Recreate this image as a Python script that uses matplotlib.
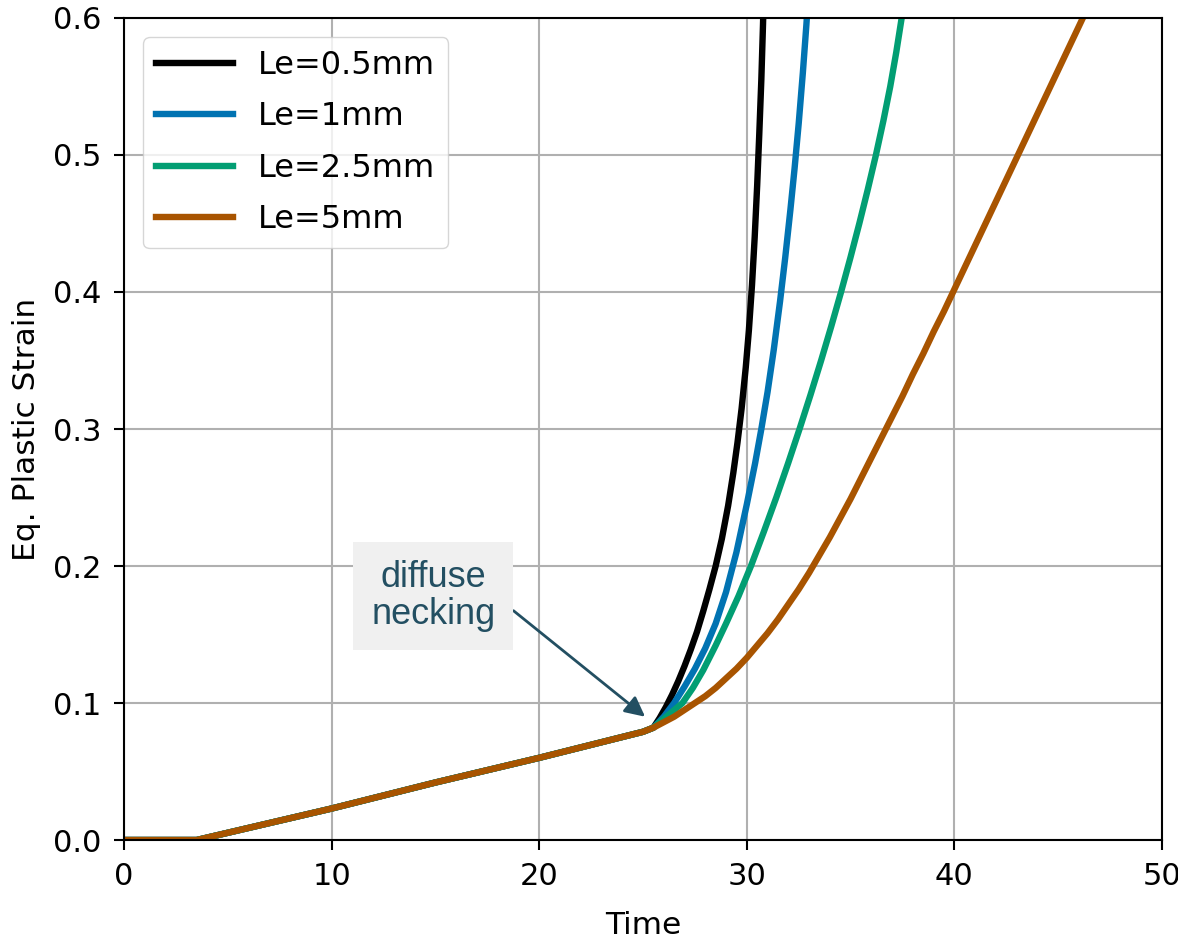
import matplotlib
matplotlib.use("Agg")
import matplotlib.pyplot as plt

# shared pre-necking branch (all element sizes overlap here)
t_base = [0.0, 3.5, 10.0, 15.0, 20.0, 25.0]
e_base = [0.0, 0.0, 0.023, 0.042, 0.060, 0.079]

# post-necking branches
t_05 = [25.5, 25.8, 26.1, 26.4, 26.7, 27.0, 27.3, 27.6, 27.9, 28.2, 28.5, 28.8,
        29.1, 29.35, 29.55, 29.75, 29.95, 30.1, 30.25, 30.38, 30.5, 30.6, 30.7, 30.78, 30.86]
e_05 = [0.082, 0.089, 0.097, 0.106, 0.116, 0.127, 0.139, 0.152, 0.167, 0.183, 0.200, 0.220,
        0.244, 0.268, 0.290, 0.315, 0.345, 0.372, 0.405, 0.440, 0.478, 0.515, 0.555, 0.595, 0.640]

t_1 = [25.5, 26.0, 26.5, 27.0, 27.5, 28.0, 28.5, 29.0, 29.5, 30.0, 30.4, 30.7, 31.0,
       31.3, 31.6, 31.85, 32.1, 32.3, 32.5, 32.7, 32.87, 33.02]
e_1 = [0.082, 0.090, 0.100, 0.112, 0.125, 0.140, 0.158, 0.181, 0.210, 0.245, 0.275, 0.300, 0.327,
       0.358, 0.393, 0.425, 0.460, 0.490, 0.523, 0.560, 0.595, 0.630]

t_25 = [25.5, 26.2, 26.9, 27.4, 27.9, 28.5, 29.0, 29.6, 30.2, 30.82, 31.42, 31.99, 32.54,
        33.07, 33.58, 34.07, 34.54, 34.99, 35.42, 35.83, 36.22, 36.58, 36.91, 37.2, 37.46, 37.69]
e_25 = [0.082, 0.091, 0.100, 0.111, 0.124, 0.142, 0.158, 0.178, 0.200, 0.225, 0.250, 0.275, 0.300,
        0.325, 0.350, 0.375, 0.400, 0.425, 0.450, 0.475, 0.500, 0.525, 0.550, 0.575, 0.600, 0.625]

t_5 = [25.5, 26.0, 26.5, 27.0, 27.5, 28.0, 28.5, 29.0, 29.5, 30.0, 30.5, 31.0, 31.5, 32.0,
       32.5, 33.0, 33.5, 34.0, 34.5, 35.0, 35.5, 36.0, 36.5, 37.0, 37.5, 38.0, 38.5, 39.0,
       39.5, 40.0, 40.5, 41.0, 41.5, 42.0, 42.5, 43.0, 43.5, 44.0, 44.5, 45.0, 45.5, 46.0,
       46.5, 47.0]
e_5 = [0.082, 0.086, 0.090, 0.095, 0.100, 0.105, 0.111, 0.118, 0.125, 0.133, 0.142, 0.151, 0.161, 0.172,
       0.183, 0.195, 0.208, 0.221, 0.235, 0.249, 0.264, 0.279, 0.294, 0.309, 0.324, 0.340, 0.355, 0.371,
       0.386, 0.402, 0.418, 0.434, 0.450, 0.466, 0.482, 0.498, 0.514, 0.530, 0.546, 0.562, 0.578, 0.594,
       0.610, 0.626]

labels = ["Le=0.5mm", "Le=1mm", "Le=2.5mm", "Le=5mm"]
colors = ["#000000", "#0173B2", "#029E73", "#A85400"]
branches = [(t_05, e_05), (t_1, e_1), (t_25, e_25), (t_5, e_5)]

plt.rcParams["font.family"] = "DejaVu Sans"
fig = plt.figure(figsize=(11.78, 9.41), dpi=100)
ax = fig.add_axes([0.1053, 0.1073, 0.8811, 0.8736])

for (t, e), lab, c in zip(branches, labels, colors):
    ax.plot(t_base + t, e_base + e, color=c, lw=4.6, label=lab, solid_joinstyle="round")

ax.set_xlim(0, 50)
ax.set_ylim(0, 0.6)
ax.set_xticks([0, 10, 20, 30, 40, 50])
ax.set_yticks([0.0, 0.1, 0.2, 0.3, 0.4, 0.5, 0.6])
ax.set_xlabel("Time", fontsize=22.5, labelpad=14)
ax.set_ylabel("Eq. Plastic Strain", fontsize=22.5, labelpad=9)
ax.tick_params(labelsize=22, length=7, width=1.5, pad=9)
for s in ax.spines.values():
    s.set_linewidth(1.5)
ax.grid(True, color="#b0b0b0", lw=1.5)

ax.legend(loc="upper left", fontsize=23, handlelength=2.4, labelspacing=0.64,
          borderaxespad=0.6)

ax.annotate("diffuse\nnecking", xy=(25.1, 0.09), xytext=(14.9, 0.178),
            ha="center", va="center", fontsize=26, color="#234f62",
            family="Liberation Sans", linespacing=1.05,
            bbox=dict(boxstyle="square,pad=0.5", fc="#f0f0f0", ec="none"),
            arrowprops=dict(arrowstyle="-|>", color="#234f62", lw=2,
                            mutation_scale=30, shrinkA=0, shrinkB=0,
                            relpos=(1.0, 0.5)))

fig.savefig("out.png", dpi=100)
